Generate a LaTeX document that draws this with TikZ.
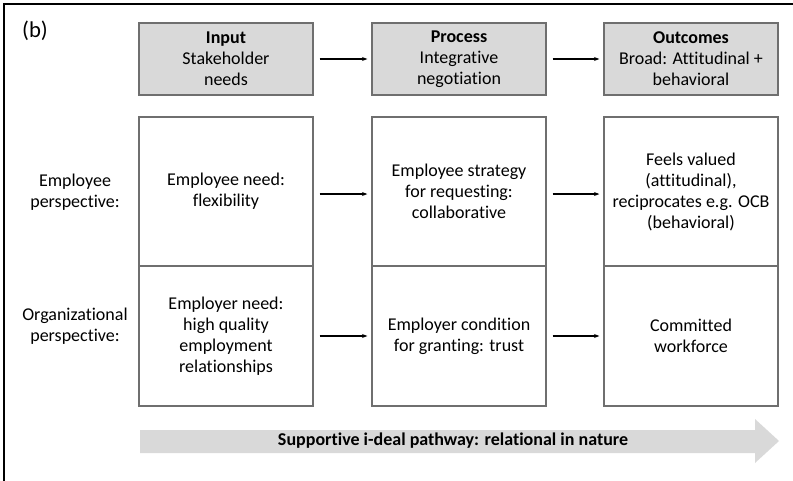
\documentclass[tikz,border=0pt]{standalone}
\usepackage{fontspec}
\setmainfont{Carlito}[Ligatures=NoCommon]
\usetikzlibrary{arrows.meta}
\definecolor{boxgray}{HTML}{D9D9D9}
\definecolor{linegray}{HTML}{6F6F6F}
\begin{document}
\begin{tikzpicture}[x=0.75pt,y=0.75pt,
  every node/.style={font=\fontsize{13.5}{15.75}\selectfont, align=center},
  headbox/.style={draw=linegray, line width=1pt, fill=boxgray, minimum width=130.5pt, minimum height=54pt, inner sep=0pt},
  cellA/.style={draw=linegray, line width=1pt, minimum width=130.5pt, minimum height=111.75pt, inner sep=0pt},
  cellB/.style={draw=linegray, line width=1pt, minimum width=130.5pt, minimum height=105pt, inner sep=0pt},
  flow/.style={-{Stealth[length=4pt,width=3pt]}, line width=0.8pt, shorten <=4.5pt, shorten >=3pt}]
\useasboundingbox (0,0) rectangle (793,-481);
\draw [black, line width=1.2pt] (4,-481) -- (4,-4) -- (793,-4);
\node [font=\fontsize{17}{20}\selectfont] (tag) at (35,-31) {(b)};
% header row
\node [headbox] (input) at (226,-59) {\textbf{Input}\\Stakeholder\\needs};
\node [headbox] (process) at (459,-59) {\textbf{Process}\\Integrative\\negotiation};
\node [headbox] (outcome) at (691,-59) {\textbf{Outcomes}\\Broad: Attitudinal +\\behavioral};
\draw [flow] (input) -- (process);
\draw [flow] (process) -- (outcome);
% perspectives
\node (emplab) at (75,-192.5) {Employee\\perspective:};
\node (orglab) at (75,-326.5) {Organizational\\perspective:};
\node [cellA] (empneed) at (226,-191.5) {Employee need:\\flexibility};
\node [cellA] (empstrat) at (459,-191.5) {Employee strategy\\for requesting:\\collaborative};
\node [cellA] (empout) at (691,-191.5) {Feels valued\\(attitudinal),\\reciprocates e.g. OCB\\(behavioral)};
\node [cellB] (orgneed) at (226,-336) {Employer need:\\high quality\\employment\\relationships};
\node [cellB] (orgcond) at (459,-336) {Employer condition\\for granting: trust};
\node [cellB] (orgout) at (691,-336) {Committed\\workforce};
\draw [flow] ([yshift=-1.9pt]empneed.east) -- ([yshift=-1.9pt]empstrat.west);
\draw [flow] ([yshift=-1.9pt]empstrat.east) -- ([yshift=-1.9pt]empout.west);
\draw [flow] (orgneed) -- (orgcond);
\draw [flow] (orgcond) -- (orgout);
% pathway arrow
\fill [boxgray] (140,-430) -- (755,-430) -- (755,-419) -- (779,-441) -- (755,-463) -- (755,-453) -- (140,-453) -- cycle;
\node (path) at (453,-441) {\textbf{Supportive i-deal pathway: relational in nature}};
\end{tikzpicture}
\end{document}
